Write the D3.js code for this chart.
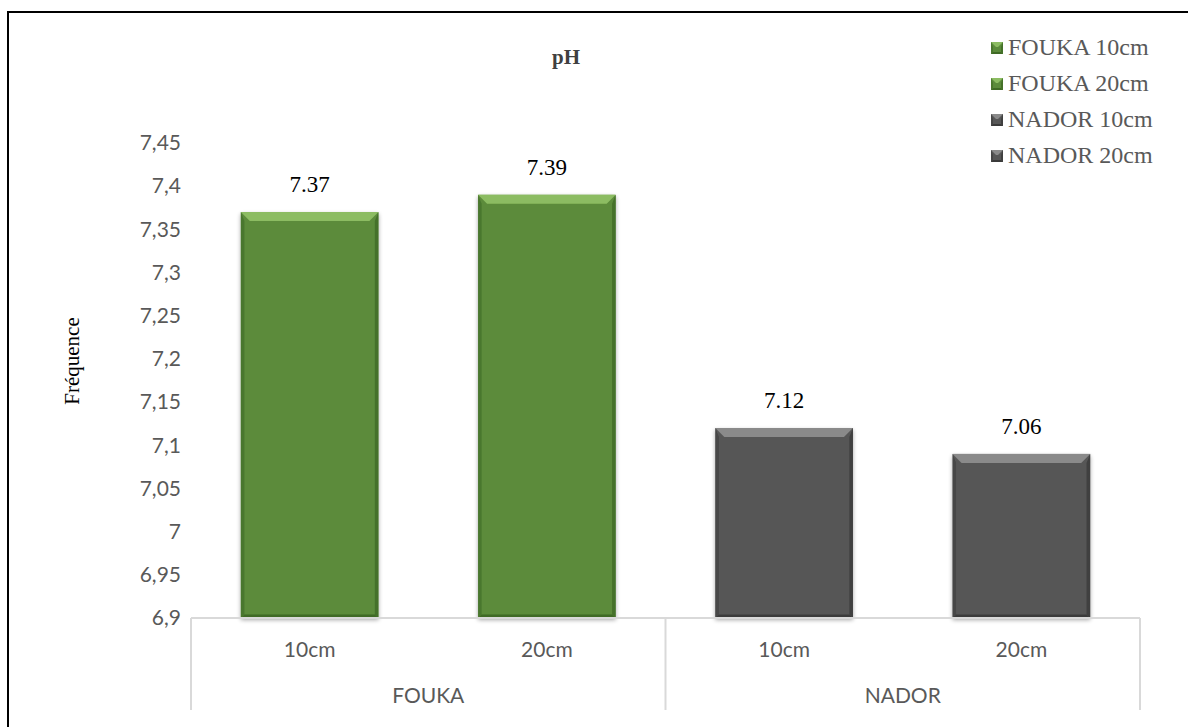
<!DOCTYPE html>
<html>
<head>
<meta charset="utf-8">
<script src="https://cdn.jsdelivr.net/npm/d3@7"></script>
<style>
  html, body { margin: 0; padding: 0; background: #fff; }
  svg { display: block; }
</style>
</head>
<body>
<div id="chart"></div>
<script>
// Data
const sites = ["FOUKA", "FOUKA", "NADOR", "NADOR"];
const depths = ["10cm", "20cm", "10cm", "20cm"];
const phValues = [7.37, 7.39, 7.12, 7.09];
const phLabels = ["7.37", "7.39", "7.12", "7.06"];
const seriesNames = ["FOUKA 10cm", "FOUKA 20cm", "NADOR 10cm", "NADOR 20cm"];
const groups = ["FOUKA", "NADOR"];
const yTickValues = [6.9, 6.95, 7, 7.05, 7.1, 7.15, 7.2, 7.25, 7.3, 7.35, 7.4, 7.45];

// COLOR SCHEME
const siteColor = new Map([
    ["FOUKA", { base: "#5b8b3b", light: "#8cbc62", dark: "#3f6a25" }],
    ["NADOR", { base: "#575757", light: "#8a8a8a", dark: "#3a3a3a" }]
]);

const W = 1188, H = 727;
const svg = d3.select("#chart").append("svg")
    .attr("width", W)
    .attr("height", H);

const serif = "'Liberation Serif', 'Times New Roman', serif";
const sans = "Lato, 'Open Sans', sans-serif";

// outer frame
svg.append("rect")
    .attr("x", 8).attr("y", 12)
    .attr("width", W + 10).attr("height", H + 10)
    .attr("fill", "none")
    .attr("stroke", "#000")
    .attr("stroke-width", 2);

const plot = { left: 191, right: 1140, top: 143, bottom: 618 };

const x = d3.scaleBand()
    .domain(d3.range(phValues.length))
    .range([plot.left, plot.right])
    .paddingInner(0.42)
    .paddingOuter(0.21);

const y = d3.scaleLinear()
    .domain([6.9, 7.45])
    .range([plot.bottom, plot.top]);

// Y axis (labels only)
const yAxis = svg.append("g")
    .attr("transform", `translate(${plot.left - 10},0)`)
    .call(d3.axisLeft(y)
        .tickValues(yTickValues)
        .tickSize(0)
        .tickPadding(0)
        .tickFormat(d => String(+d.toFixed(2)).replace(".", ",")));
yAxis.select(".domain").remove();
yAxis.selectAll("text")
    .attr("font-family", sans)
    .attr("font-size", 21)
    .attr("fill", "#595959");

// bar shadow + bevel
const defs = svg.append("defs");
const shadow = defs.append("filter").attr("id", "shadow")
    .attr("x", "-10%").attr("y", "-10%").attr("width", "120%").attr("height", "120%");
shadow.append("feGaussianBlur").attr("in", "SourceAlpha").attr("stdDeviation", 2);
shadow.append("feOffset").attr("dy", 2).attr("result", "b");
shadow.append("feComponentTransfer").append("feFuncA").attr("type", "linear").attr("slope", 0.35);
const mrg = shadow.append("feMerge");
mrg.append("feMergeNode");
mrg.append("feMergeNode").attr("in", "SourceGraphic");

function drawBevelBox(g, x0, y0, w, h, c, bv) {
    const x1 = x0 + w, y1 = y0 + h;
    g.append("rect").attr("x", x0).attr("y", y0).attr("width", w).attr("height", h)
        .attr("fill", c.base);
    // top bevel (light)
    g.append("path")
        .attr("d", `M${x0},${y0}L${x1},${y0}L${x1 - bv},${y0 + bv}L${x0 + bv},${y0 + bv}Z`)
        .attr("fill", c.light);
    // left bevel
    g.append("path")
        .attr("d", `M${x0},${y0}L${x0 + bv * 0.4},${y0 + bv}L${x0 + bv * 0.4},${y1 - bv * 0.4}L${x0},${y1}Z`)
        .attr("fill", c.dark).attr("opacity", 0.6);
    // right bevel
    g.append("path")
        .attr("d", `M${x1},${y0}L${x1 - bv * 0.4},${y0 + bv}L${x1 - bv * 0.4},${y1 - bv * 0.4}L${x1},${y1}Z`)
        .attr("fill", c.dark).attr("opacity", 0.8);
    // bottom bevel
    g.append("path")
        .attr("d", `M${x0},${y1}L${x0 + bv * 0.4},${y1 - bv * 0.4}L${x1 - bv * 0.4},${y1 - bv * 0.4}L${x1},${y1}Z`)
        .attr("fill", c.dark);
}

const bars = svg.append("g").attr("class", "bars");
phValues.forEach((v, i) => {
    const g = bars.append("g").attr("filter", "url(#shadow)");
    drawBevelBox(g, x(i), y(v), x.bandwidth(), y(6.9) - y(v), siteColor.get(sites[i]), 9);
});

// data labels
svg.append("g").selectAll("text")
    .data(phValues)
    .join("text")
    .attr("x", (d, i) => x(i) + x.bandwidth() / 2)
    .attr("y", d => y(d) - 20)
    .attr("text-anchor", "middle")
    .attr("font-family", serif)
    .attr("font-size", 23)
    .attr("fill", "#000")
    .text((d, i) => phLabels[i]);

// category axis (two levels)
const axisCol = "#d9d9d9";
const axisG = svg.append("g");
axisG.append("line")
    .attr("x1", plot.left).attr("x2", plot.right)
    .attr("y1", plot.bottom).attr("y2", plot.bottom)
    .attr("stroke", axisCol).attr("stroke-width", 2);
const groupEdges = [0, 2, 4].map(i => i < phValues.length
    ? x(i) - x.step() * x.paddingInner() / 2 - (i === 0 ? x.step() * (x.paddingOuter() - x.paddingInner() / 2) : 0)
    : plot.right);
groupEdges.forEach(gx => {
    axisG.append("line")
        .attr("x1", gx).attr("x2", gx)
        .attr("y1", plot.bottom).attr("y2", 710)
        .attr("stroke", axisCol).attr("stroke-width", 2);
});
axisG.selectAll("text.depth")
    .data(depths)
    .join("text")
    .attr("class", "depth")
    .attr("x", (d, i) => x(i) + x.bandwidth() / 2)
    .attr("y", 657)
    .attr("text-anchor", "middle")
    .attr("font-family", sans)
    .attr("font-size", 21)
    .attr("fill", "#595959")
    .text(d => d);
axisG.selectAll("text.site")
    .data(groups)
    .join("text")
    .attr("class", "site")
    .attr("x", (d, i) => (groupEdges[i] + groupEdges[i + 1]) / 2)
    .attr("y", 703)
    .attr("text-anchor", "middle")
    .attr("font-family", sans)
    .attr("font-size", 21)
    .attr("fill", "#595959")
    .text(d => d);

// title
svg.append("text")
    .attr("x", 566).attr("y", 64)
    .attr("text-anchor", "middle")
    .attr("font-family", serif)
    .attr("font-weight", "bold")
    .attr("font-size", 21)
    .attr("fill", "#404040")
    .text("pH");

// y title
svg.append("text")
    .attr("transform", "translate(79,361) rotate(-90)")
    .attr("text-anchor", "middle")
    .attr("font-family", serif)
    .attr("font-size", 21)
    .attr("fill", "#000")
    .text("Fréquence");

// legend
const legend = svg.append("g").attr("transform", "translate(991,48)");
const li = legend.selectAll("g")
    .data(seriesNames)
    .join("g")
    .attr("transform", (d, i) => `translate(0,${i * 36})`);
li.each(function (d, i) {
    drawBevelBox(d3.select(this), 0, -6, 12, 12, siteColor.get(sites[i]), 5);
});
li.append("text")
    .attr("x", 17).attr("y", 7)
    .attr("font-family", serif)
    .attr("font-size", 24)
    .attr("fill", "#595959")
    .text(d => d);
</script>
</body>
</html>
